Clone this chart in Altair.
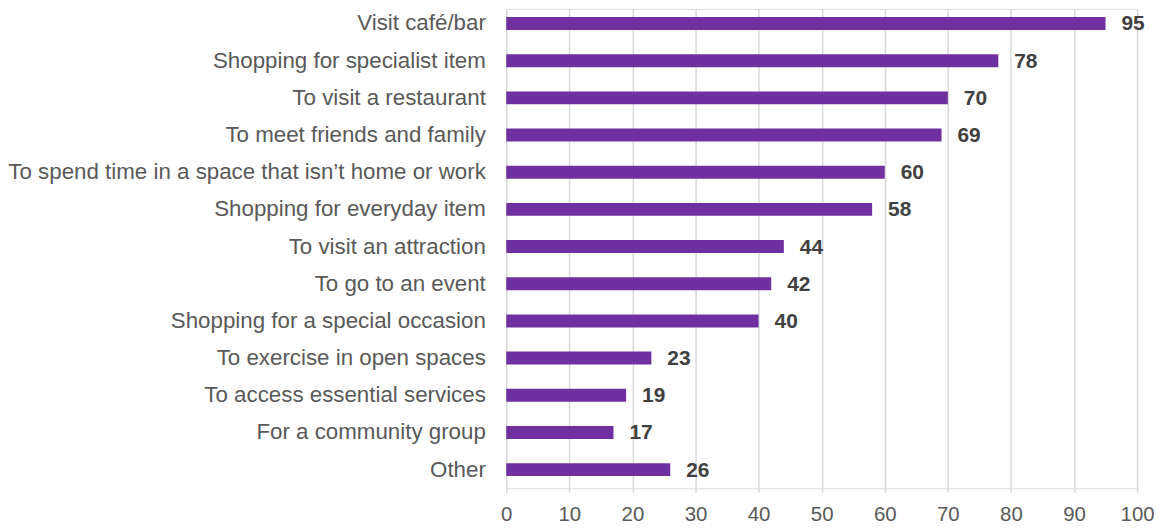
import altair as alt
import pandas as pd

categories = [
    "Visit café/bar",
    "Shopping for specialist item",
    "To visit a restaurant\u2005",
    "To meet friends and family",
    "To spend time in a space that isn’t home or work",
    "Shopping for everyday item",
    "To visit an attraction",
    "To go to an event",
    "Shopping for a special occasion",
    "To exercise in open spaces",
    "To access essential services",
    "For a community group",
    "Other",
]
values = [95, 78, 70, 69, 60, 58, 44, 42, 40, 23, 19, 17, 26]
x_ticks = [0, 10, 20, 30, 40, 50, 60, 70, 80, 90, 100]

df = pd.DataFrame({"category": categories, "value": values})

FONT = "Liberation Sans"
H = 481

y_enc = alt.Y(
    "category:N",
    sort=categories,
    scale=alt.Scale(range=[-4, H], paddingInner=0, paddingOuter=0),
    axis=alt.Axis(
        title=None, ticks=False, domain=False, labelPadding=21,
        labelFont=FONT, labelFontSize=22.4, labelColor="#595959", labelLimit=600,
    ),
)
x_enc = alt.X(
    "value:Q",
    scale=alt.Scale(domain=[0, 100], nice=False),
    axis=alt.Axis(
        title=None, values=x_ticks, ticks=False, domain=False, labelPadding=16,
        labelFlush=False, labelOverlap=False,
        labelFont=FONT, labelFontSize=20.5, labelColor="#595959",
        grid=True, gridColor="#d9d9d9", gridWidth=1.5,
    ),
)

bars = alt.Chart(df).mark_bar(size=13, color="#7030A0").encode(x=x_enc, y=y_enc)
labels = alt.Chart(df).mark_text(
    align="left", baseline="middle", dx=16, dy=1, font=FONT, fontSize=21,
    fontWeight="bold", color="#404040",
).encode(x="value:Q", y=alt.Y("category:N", sort=categories), text="value:Q")

chart = (
    alt.layer(bars, labels)
    .properties(
        width=633, height=H,
        autosize=alt.AutoSizeParams(type="none"),
        padding={"left": 500, "top": 0, "right": 20, "bottom": 35},
    )
    .configure_view(stroke=None)
    .configure(background="white")
)

chart.save("out.html", embed_options={"renderer": "svg", "actions": False})
